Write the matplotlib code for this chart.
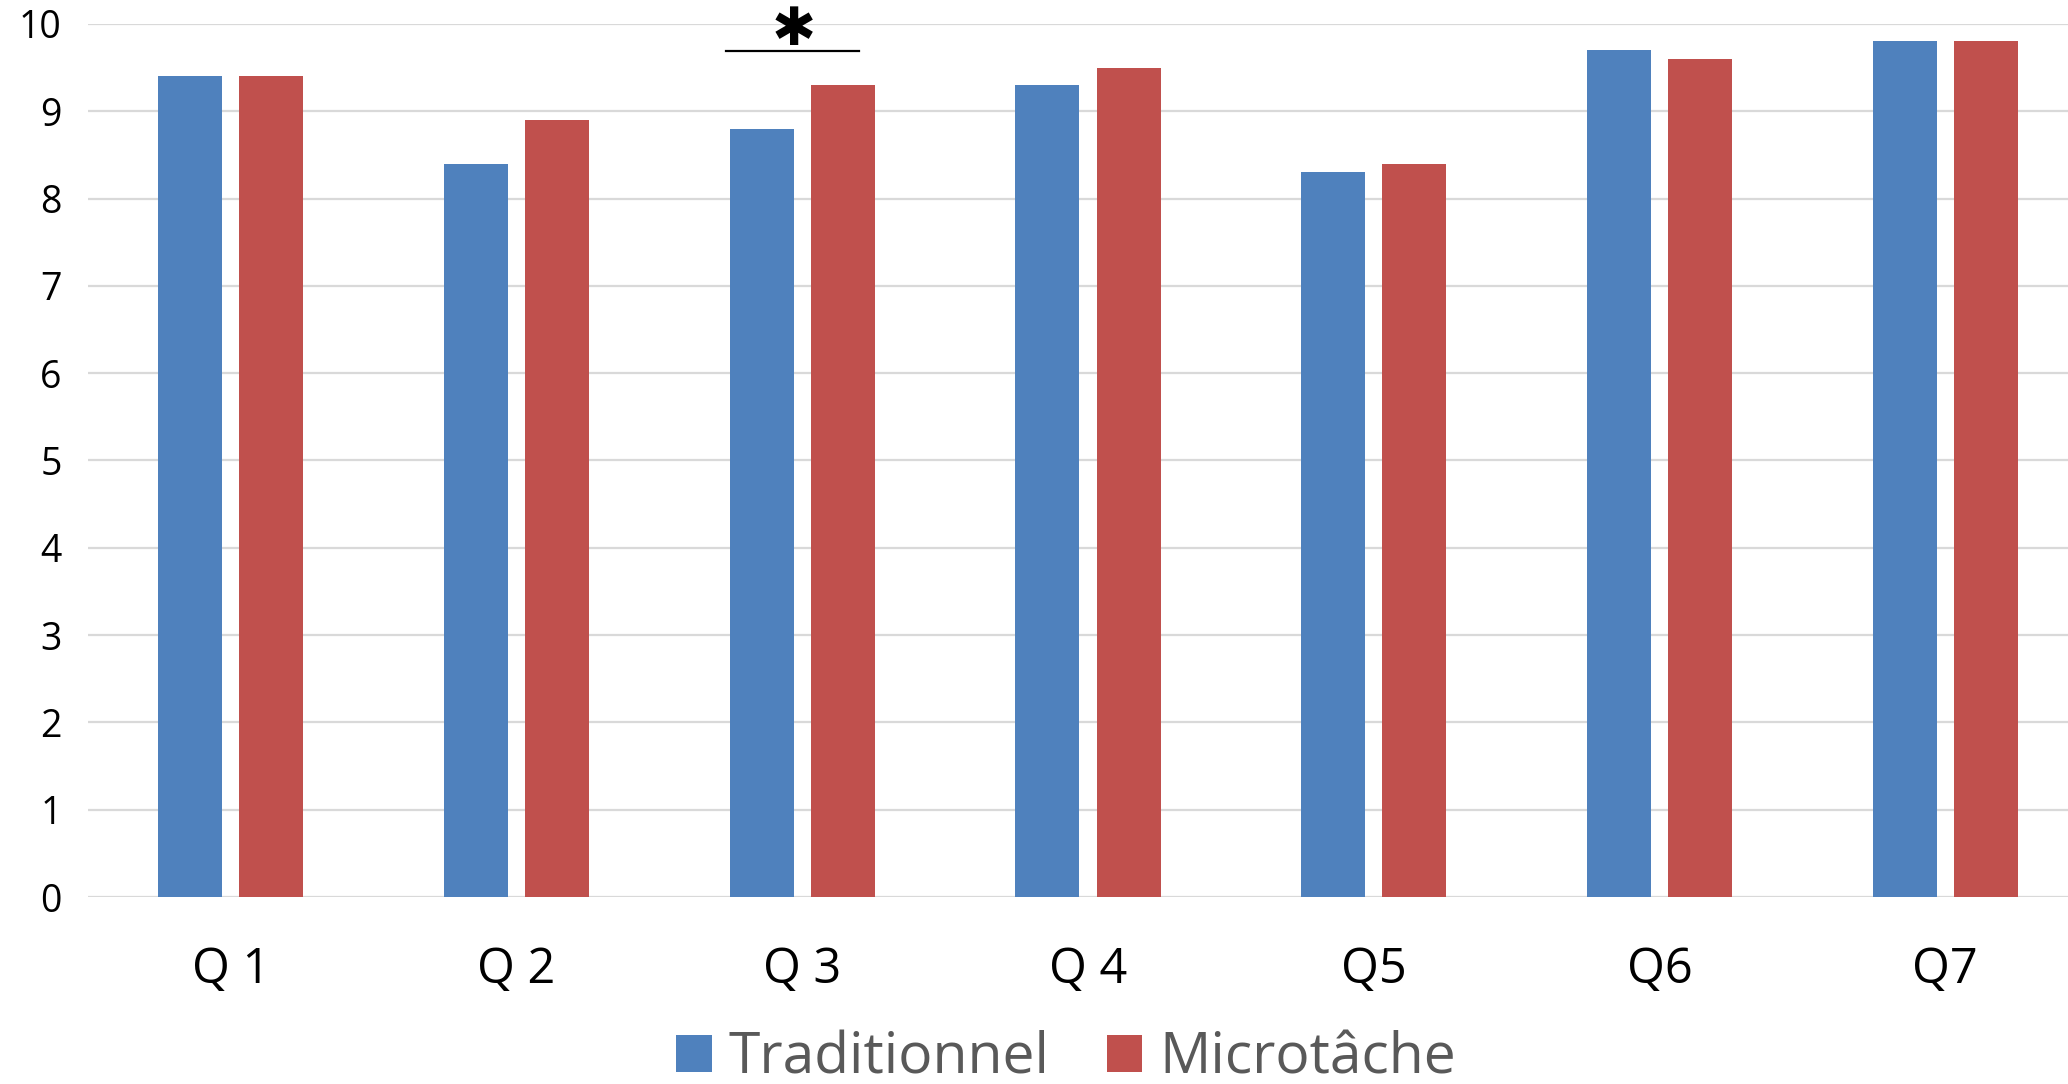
import matplotlib
matplotlib.use("Agg")
import matplotlib.pyplot as plt
import numpy as np

categories = ["Q 1", "Q 2", "Q 3", "Q 4", "Q5", "Q6", "Q7"]
traditionnel = [9.4, 8.4, 8.8, 9.3, 8.3, 9.7, 9.8]
microtache = [9.4, 8.9, 9.3, 9.5, 8.4, 9.6, 9.8]
series_names = ["Traditionnel", "Microtâche"]
yticks = list(range(0, 11))
signif_index = 2
signif_line_y = 9.69
signif_star_y = 9.93

blue = "#4F81BD"
red = "#C0504D"
grid = "#D9D9D9"

plt.rcParams['font.family'] = ['Open Sans', 'DejaVu Sans']

fig = plt.figure(figsize=(20.68, 10.84), dpi=100)
ax = fig.add_axes([88/2068, 187/1084, 2000/2068, (897-24)/1084])

x = np.arange(len(categories))
w = 0.224
off = 0.142
ax.bar(x - off, traditionnel, w, color=blue, label=series_names[0], zorder=3)
ax.bar(x + off, microtache, w, color=red, label=series_names[1], zorder=3)

ax.set_xlim(-0.5, len(categories) - 0.5)
ax.set_ylim(0, 10)
ax.set_yticks(yticks)
ax.set_yticklabels([str(t) for t in yticks], fontsize=27)
ax.set_xticks(x)
ax.set_xticklabels(categories, fontsize=35)
ax.tick_params(axis='y', length=0, pad=19)
ax.tick_params(axis='x', length=0, pad=35)
ax.yaxis.grid(True, color=grid, linewidth=1.6, zorder=0)
ax.set_axisbelow(True)
for s in ax.spines.values():
    s.set_visible(False)

# significance marker
ax.plot([signif_index - 0.266, signif_index + 0.2], [signif_line_y, signif_line_y],
        color="black", linewidth=1.6, clip_on=False, zorder=4)
ax.text(signif_index - 0.03, signif_star_y, "✱", fontsize=38, ha='center', va='center',
        family=['DejaVu Sans'], clip_on=False)

leg = fig.legend(loc='center', bbox_to_anchor=(1066/2068, 1 - 1059/1084), ncol=2,
                 frameon=False, fontsize=41, handlelength=0.62, handleheight=0.62,
                 handletextpad=0.3, columnspacing=1.0, labelcolor="#595959")

fig.savefig("out.png", dpi=100)
